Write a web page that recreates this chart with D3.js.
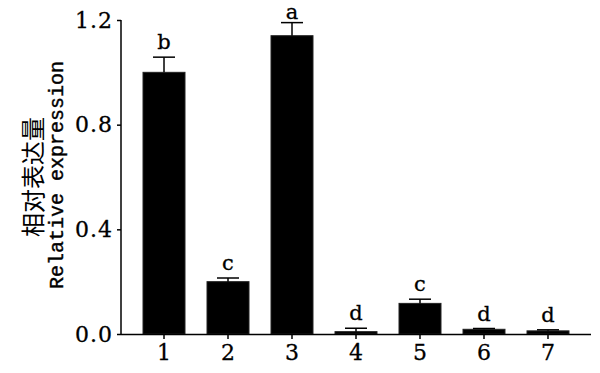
<!DOCTYPE html>
<html><head><meta charset="utf-8">
<script src="https://cdn.jsdelivr.net/npm/d3@7"></script>
<style>body{margin:0;background:#fff}svg{display:block}</style>
</head><body>
<script>
const categories = ["1","2","3","4","5","6","7"];
const values = [1.0, 0.2, 1.14, 0.009, 0.117, 0.018, 0.012];
const errors = [0.058, 0.014, 0.05, 0.013, 0.016, 0.003, 0.004];
const letters = ["b","c","a","d","c","d","d"];
const yTicks = [0, 0.4, 0.8, 1.2];

const W = 600, H = 373;
const m = {left:121, right:9, top:20, bottom:39};
const svg = d3.select("body").append("svg").attr("width", W).attr("height", H);
const x = d3.scaleBand().domain(categories).range([m.left, W - m.right]).paddingInner(0.344).paddingOuter(0.344);
const y = d3.scaleLinear().domain([0, 1.2]).range([H - m.bottom, m.top]);
const font = "'DejaVu Serif', serif";

const g = svg.append("g");
g.selectAll("rect.bar").data(values).join("rect")
  .attr("x", (d,i) => x(categories[i])).attr("width", x.bandwidth())
  .attr("y", d => y(d)).attr("height", d => y(0) - y(d))
  .attr("fill", "#000").attr("stroke", "#222").attr("stroke-width", 1);

const cap = 22;
values.forEach((v,i) => {
  const cx = x(categories[i]) + x.bandwidth()/2;
  const top = y(v + errors[i]);
  g.append("line").attr("x1", cx).attr("x2", cx).attr("y1", y(v)).attr("y2", top).attr("stroke", "#000").attr("stroke-width", 1.5);
  g.append("line").attr("x1", cx - cap/2).attr("x2", cx + cap/2).attr("y1", top).attr("y2", top).attr("stroke", "#000").attr("stroke-width", 1.5);
  g.append("text").attr("x", cx).attr("y", Math.max(top - 8, 19)).attr("text-anchor", "middle")
    .attr("font-family", font).attr("font-size", 21)
    .attr("stroke", "#000").attr("stroke-width", 0.3).text(letters[i]);
});

const yAxis = svg.append("g").attr("transform", `translate(${m.left},0)`)
  .call(d3.axisLeft(y).tickValues(yTicks).tickFormat(d3.format(".1f")).tickSize(4).tickPadding(4));
const xAxis = svg.append("g").attr("transform", `translate(0,${H - m.bottom})`)
  .call(d3.axisBottom(x).tickSize(5).tickPadding(5).tickSizeOuter(0));
xAxis.select(".domain").attr("d", `M${m.left},0.5H${W - m.right}`);
yAxis.select(".domain").attr("d", `M0,${m.top}V${H - m.bottom}`);
[xAxis, yAxis].forEach(a => {
  a.selectAll("path,line").attr("stroke", "#000").attr("stroke-width", 1.5);
  a.selectAll("text").attr("font-family", font).attr("font-size", 22).attr("fill", "#000")
    .attr("stroke", "#000").attr("stroke-width", 0.3);
});
yAxis.selectAll("text").attr("letter-spacing", "1px");

svg.append("text").attr("transform", "translate(31,177) rotate(-90)").attr("text-anchor", "middle")
  .attr("dominant-baseline", "central")
  .attr("font-family", "'Noto Sans CJK SC', sans-serif").attr("font-size", 24).text("相对表达量");
svg.append("text").attr("transform", "translate(57,175) rotate(-90)").attr("text-anchor", "middle")
  .attr("dominant-baseline", "central")
  .attr("font-family", "'Liberation Mono', monospace").attr("font-size", 20)
  .attr("stroke", "#000").attr("stroke-width", 0.4).text("Relative expression");
</script>
</body></html>
